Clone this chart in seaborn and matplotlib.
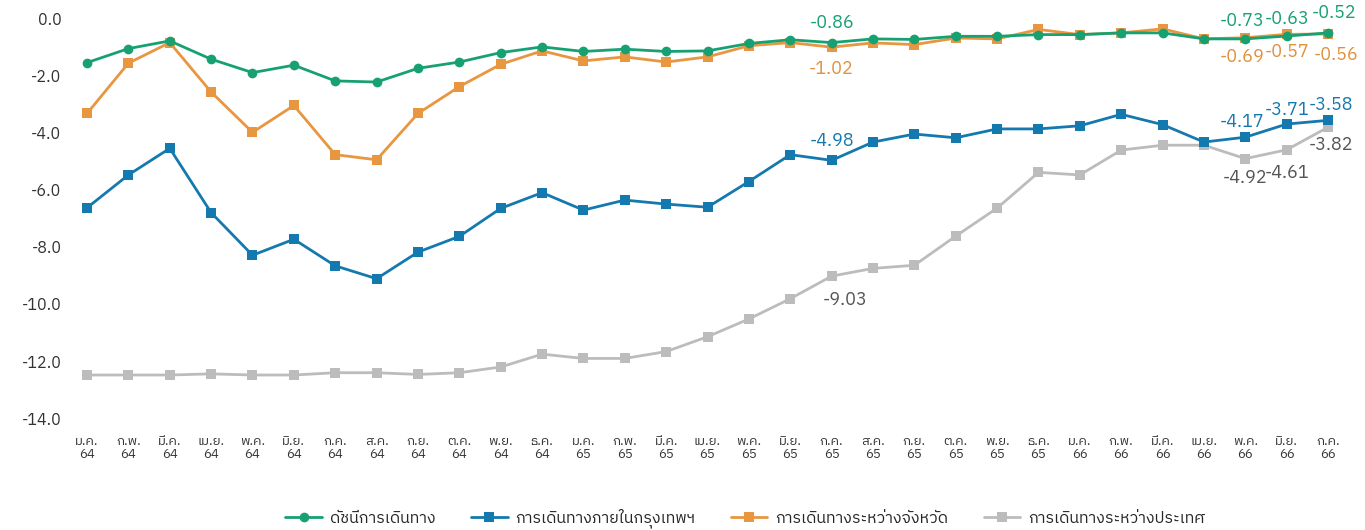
import matplotlib
matplotlib.use("Agg")
import matplotlib.pyplot as plt
import seaborn as sns
import pandas as pd
from matplotlib import font_manager

# months (Thai abbreviations) and Buddhist-era years
months = ['ม.ค.', 'ก.พ.', 'มี.ค.', 'เม.ย.', 'พ.ค.', 'มิ.ย.', 'ก.ค.', 'ส.ค.', 'ก.ย.', 'ต.ค.', 'พ.ย.', 'ธ.ค.',
          'ม.ค.', 'ก.พ.', 'มี.ค.', 'เม.ย.', 'พ.ค.', 'มิ.ย.', 'ก.ค.', 'ส.ค.', 'ก.ย.', 'ต.ค.', 'พ.ย.', 'ธ.ค.',
          'ม.ค.', 'ก.พ.', 'มี.ค.', 'เม.ย.', 'พ.ค.', 'มิ.ย.', 'ก.ค.']
years = ['64'] * 12 + ['65'] * 12 + ['66'] * 7

series_names = ['ดัชนีการเดินทาง', 'การเดินทางภายในกรุงเทพฯ',
                'การเดินทางระหว่างจังหวัด', 'การเดินทางระหว่างประเทศ']

travel_index = [-1.56, -1.07, -0.80, -1.44, -1.91, -1.65, -2.20, -2.24, -1.76, -1.54,
                -1.21, -1.01, -1.17, -1.09, -1.17, -1.15, -0.89, -0.76, -0.86, -0.73,
                -0.75, -0.64, -0.64, -0.58, -0.58, -0.52, -0.52, -0.73, -0.73, -0.63, -0.52]
bangkok = [-6.64, -5.49, -4.56, -6.81, -8.30, -7.74, -8.67, -9.12, -8.19, -7.64,
           -6.66, -6.11, -6.72, -6.37, -6.51, -6.62, -5.72, -4.78, -4.98, -4.34,
           -4.06, -4.19, -3.88, -3.88, -3.77, -3.37, -3.73, -4.34, -4.17, -3.71, -3.58]
interprovince = [-3.34, -1.58, -0.86, -2.59, -4.00, -3.06, -4.78, -4.96, -3.34, -2.40,
                 -1.62, -1.15, -1.50, -1.36, -1.54, -1.36, -0.97, -0.86, -1.02, -0.87,
                 -0.93, -0.70, -0.73, -0.40, -0.58, -0.52, -0.38, -0.73, -0.69, -0.57, -0.56]
international = [-12.49, -12.49, -12.49, -12.45, -12.49, -12.49, -12.41, -12.41, -12.47, -12.41,
                 -12.21, -11.76, -11.91, -11.91, -11.67, -11.15, -10.53, -9.82, -9.03, -8.76,
                 -8.65, -7.63, -6.65, -5.40, -5.49, -4.62, -4.45, -4.45, -4.92, -4.61, -3.82]

# which points carry a value label
labeled_points = {
    'ดัชนีการเดินทาง': [18, 28, 29, 30],
    'การเดินทางภายในกรุงเทพฯ': [18, 28, 29, 30],
    'การเดินทางระหว่างจังหวัด': [18, 28, 29, 30],
    'การเดินทางระหว่างประเทศ': [18, 28, 29, 30],
}

colors = {
    'ดัชนีการเดินทาง': '#17a172',
    'การเดินทางภายในกรุงเทพฯ': '#1479ae',
    'การเดินทางระหว่างจังหวัด': '#e8963f',
    'การเดินทางระหว่างประเทศ': '#bcbcbc',
}
label_colors = {
    'ดัชนีการเดินทาง': '#17a172',
    'การเดินทางภายในกรุงเทพฯ': '#1479ae',
    'การเดินทางระหว่างจังหวัด': '#e0913c',
    'การเดินทางระหว่างประเทศ': '#555555',
}
markers = {
    'ดัชนีการเดินทาง': 'o',
    'การเดินทางภายในกรุงเทพฯ': 's',
    'การเดินทางระหว่างจังหวัด': 's',
    'การเดินทางระหว่างประเทศ': 's',
}
# label offsets in points (dx, dy) for each labelled point
offsets = {
    'ดัชนีการเดินทาง': [(0, 14), (-2, 13), (0, 12), (4, 14)],
    'การเดินทางภายในกรุงเทพฯ': [(0, 14), (-2, 11), (0, 10), (2, 11)],
    'การเดินทางระหว่างจังหวัด': [(0, -16), (-2, -14), (0, -13), (6, -15)],
    'การเดินทางระหว่างประเทศ': [(10, -17), (0, -14), (0, -17), (2, -13)],
}


def find_thai_font():
    """Return the name of an installed font that covers Thai, if any"""
    try:
        from fontTools.ttLib import TTFont
    except ImportError:
        return None
    found = []
    for f in font_manager.fontManager.ttflist:
        try:
            cmap = TTFont(f.fname, fontNumber=0, lazy=True).getBestCmap()
        except Exception:
            continue
        if cmap and 0x0E01 in cmap and 0x0E40 in cmap:
            found.append(f.name)
    if not found:
        return None
    found.sort(key=lambda n: (0 if 'Thai' in n else 1, n))
    return found[0]


sns.set_style("white")
thai_font = find_thai_font()
families = ['DejaVu Sans']
if thai_font:
    families = [thai_font, 'DejaVu Sans']
plt.rcParams['font.family'] = families
plt.rcParams['axes.unicode_minus'] = False

values = {
    'ดัชนีการเดินทาง': travel_index,
    'การเดินทางภายในกรุงเทพฯ': bangkok,
    'การเดินทางระหว่างจังหวัด': interprovince,
    'การเดินทางระหว่างประเทศ': international,
}

fig = plt.figure(figsize=(13.65, 5.3), dpi=100)
ax = fig.add_axes([0.0486, 0.211, 0.9395, 0.755])

x = list(range(len(months)))
# draw back to front: grey, blue, orange, green
for name in reversed(series_names):
    df = pd.DataFrame({'x': x, 'y': values[name]})
    sns.lineplot(data=df, x='x', y='y', ax=ax, color=colors[name], marker=markers[name],
                 markersize=7, markeredgewidth=0, linewidth=2.0, label=name)

for name in series_names:
    for idx, (dx, dy) in zip(labeled_points[name], offsets[name]):
        v = values[name][idx]
        ax.annotate(f'{v:.2f}', (idx, v), xytext=(dx, dy), textcoords='offset points',
                    ha='center', va='center', fontsize=13, color=label_colors[name])

ax.set_xlim(-0.5, len(months) - 0.5)
ax.set_ylim(-14, 0)
ax.set_yticks([0, -2, -4, -6, -8, -10, -12, -14])
ax.set_yticklabels([f'{t:.1f}' for t in [0, -2, -4, -6, -8, -10, -12, -14]],
                   fontsize=11.5, color='#333333')
ax.set_xticks(x)
ax.set_xticklabels([f'{m}\n{yy}' for m, yy in zip(months, years)], fontsize=9.5,
                   color='#333333', linespacing=1.0)
ax.tick_params(axis='both', length=0)
ax.tick_params(axis='x', pad=12)
ax.set_xlabel('')
ax.set_ylabel('')
for s in ax.spines.values():
    s.set_visible(False)

handles, labels = ax.get_legend_handles_labels()
order = [labels.index(n) for n in series_names]
ax.get_legend().remove()
fig.legend([handles[i] for i in order], [labels[i] for i in order], loc='center',
           bbox_to_anchor=(0.546, 0.022), ncol=4, frameon=False, fontsize=11.5,
           handlelength=2.3, columnspacing=2.2, handletextpad=0.5)

fig.savefig('out.png', dpi=100)
